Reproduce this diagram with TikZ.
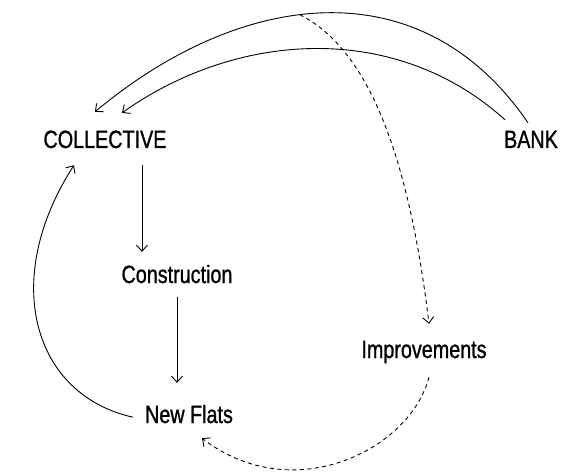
\documentclass[tikz,border=0pt]{standalone}
\usepackage{fontspec}
\setmainfont{Liberation Sans}[FakeStretch=0.79,FakeBold=1]
\usetikzlibrary{arrows.meta}
\begin{document}
\begin{tikzpicture}[x=1pt,y=-1pt,
  lbl/.style={inner sep=0pt,anchor=base,text height=18pt,text depth=0pt,font=\fontsize{25}{27}\selectfont},
  conn/.style={line width=0.9pt,-{Straight Barb[length=6pt,width=11pt]}},
  dconn/.style={conn,dash pattern=on 4pt off 3.5pt}]
\useasboundingbox (0,0) rectangle (572,473);
\node[lbl] (coll) at (105,148) {COLLECTIVE};
\node[lbl] (bank) at (531,148) {BANK};
\node[lbl] (cons) at (177,283) {Construction};
\node[lbl] (impr) at (424,358) {Improvements};
\node[lbl] (flats) at (189,423) {New Flats};
% bank to collective arcs
\draw[conn] ([shift={(-3,-7)}]bank.north) .. controls (421,-34) and (241,-10) .. ([shift={(-10,-18)}]coll.north)
  coordinate[pos=0.557] (top);
\draw[conn] ([shift={(-26,-10)}]bank.north) .. controls (398,23) and (241,29) .. ([shift={(17,-17)}]coll.north);
% vertical chain
\draw[conn] ([shift={(37,17)}]coll.south) -- ([shift={(-35,-13)}]cons.north);
\draw[conn] ([shift={(0,14)}]cons.south) -- ([shift={(-12,-22)}]flats.north);
% loop back
\draw[conn] ([shift={(-56,-6)}]flats.south) .. controls (33,395) and (0,280) .. ([shift={(-31,17)}]coll.south);
% dashed
\draw[dconn] (top) .. controls (375,52) and (411,175) .. ([shift={(5,-16)}]impr.north);
\draw[dconn] ([shift={(5,19)}]impr.south) .. controls (410,450) and (293,508) .. ([shift={(13,15)}]flats.south);
\end{tikzpicture}
\end{document}
